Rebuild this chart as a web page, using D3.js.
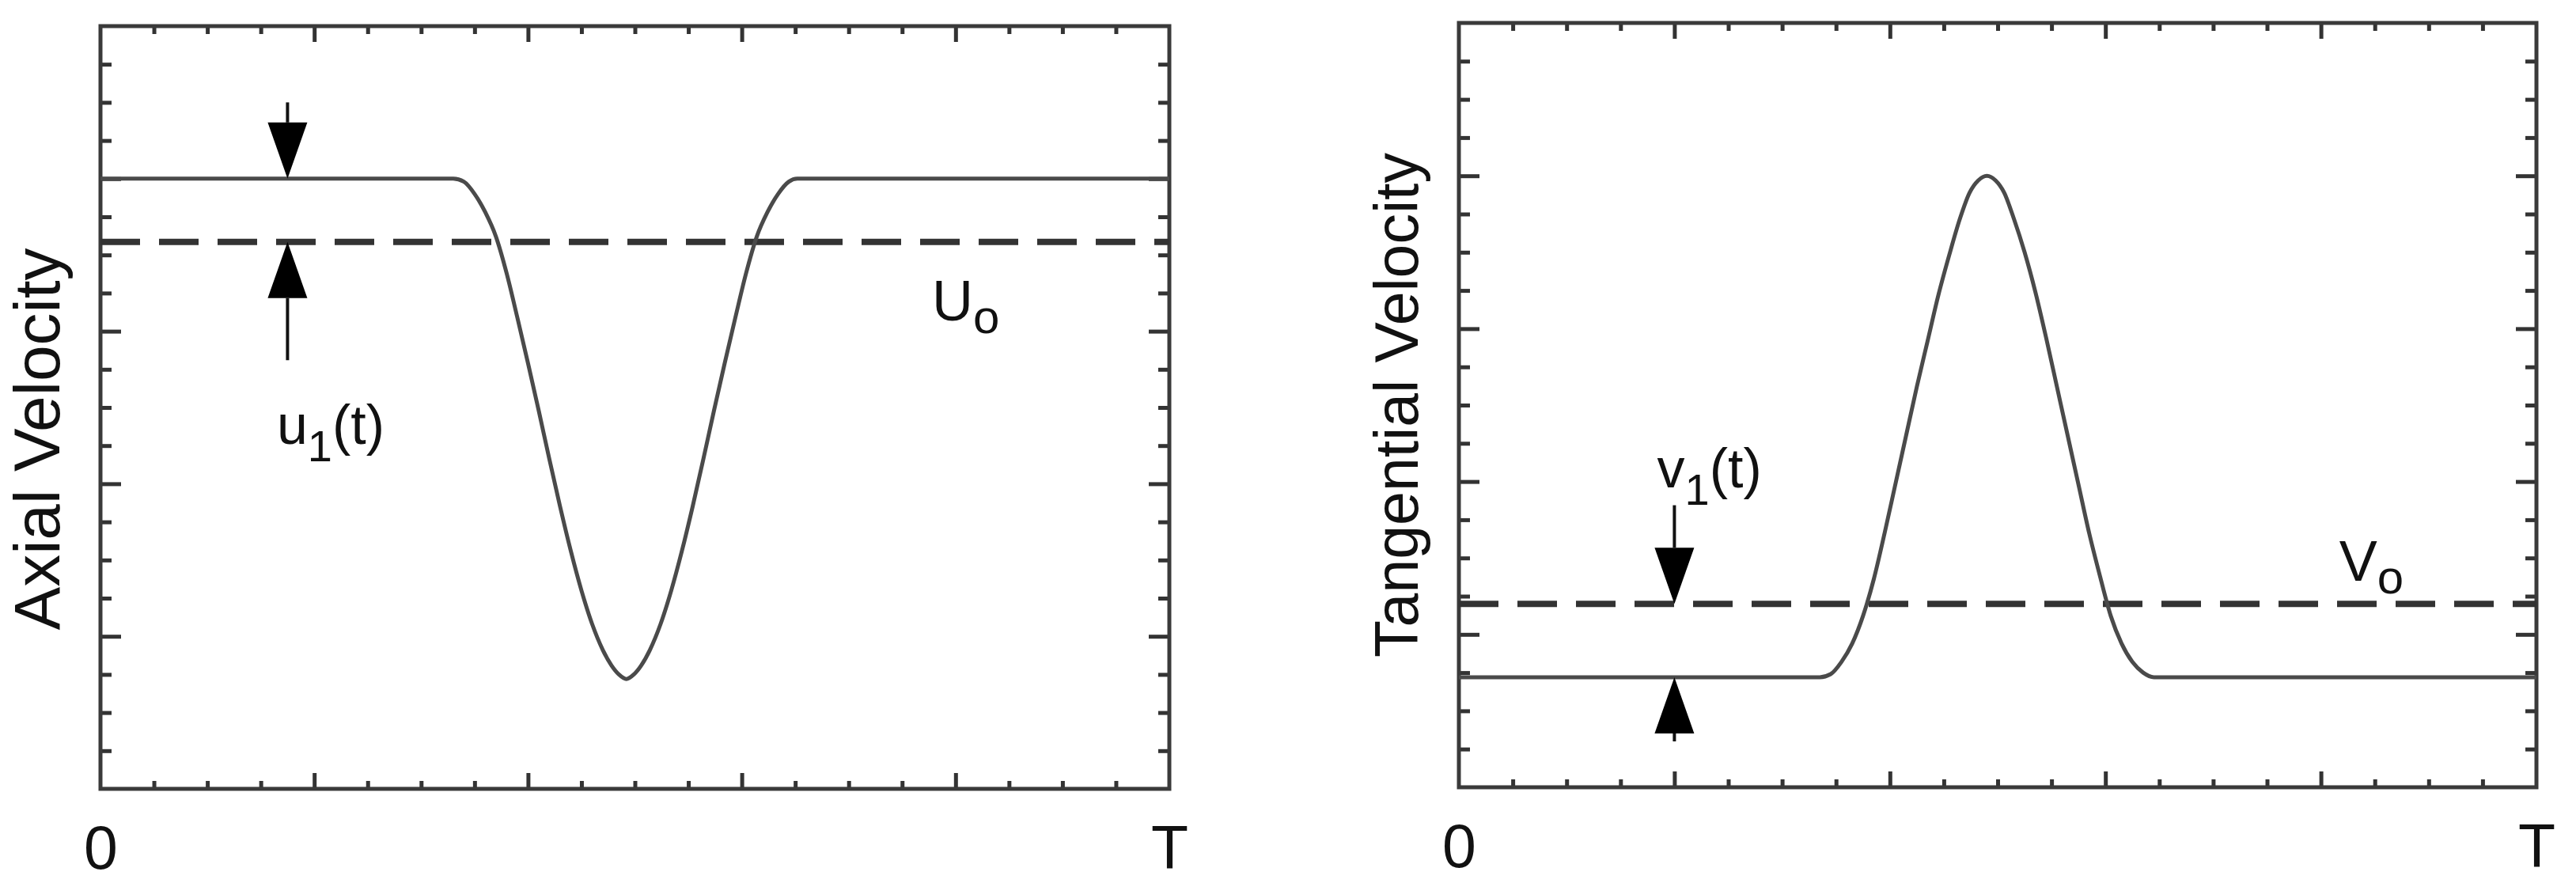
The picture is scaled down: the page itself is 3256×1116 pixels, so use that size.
<!DOCTYPE html>
<html>
<head>
<meta charset="utf-8">
<script src="https://cdn.jsdelivr.net/npm/d3@7"></script>
<style>
  body { margin: 0; background: #fff; }
  svg { display: block; font-family: "Liberation Sans", Arial, Helvetica, sans-serif; }
</style>
</head>
<body>
<div id="chart"></div>
<script>
// time as a fraction of the period T, velocity in plot units (0..5)

// axial velocity: flat, then a dip, then flat again
const axialT = [0, 0.33, 0.34, 0.35, 0.36, 0.37, 0.38, 0.39, 0.40, 0.41, 0.42, 0.43, 0.44, 0.45, 0.46, 0.47, 0.478, 0.485, 0.492,
                0.499, 0.506, 0.514, 0.524, 0.534, 0.544, 0.554, 0.564, 0.574, 0.584, 0.594, 0.604, 0.614, 0.624, 0.634, 0.644, 0.652, 1];
const axialU = [4.0, 4.0, 3.98, 3.90, 3.78, 3.62, 3.38, 3.09, 2.79, 2.48, 2.16, 1.85, 1.56, 1.30, 1.08, 0.91, 0.81, 0.75, 0.72,
                0.75, 0.81, 0.91, 1.08, 1.30, 1.56, 1.85, 2.16, 2.48, 2.79, 3.09, 3.38, 3.62, 3.78, 3.90, 3.98, 4.0, 4.0];
const axialMean = 3.585;

// tangential velocity: flat, then a peak, then flat again
const tangT = [0, 0.335, 0.345, 0.355, 0.365, 0.375, 0.385, 0.395, 0.405, 0.415, 0.425, 0.435, 0.445, 0.455, 0.465, 0.474, 0.482, 0.49,
               0.498, 0.506, 0.515, 0.525, 0.535, 0.545, 0.555, 0.565, 0.575, 0.585, 0.595, 0.605, 0.615, 0.625, 0.635, 0.645, 1];
const tangV = [0.72, 0.72, 0.74, 0.82, 0.94, 1.12, 1.36, 1.66, 1.98, 2.30, 2.62, 2.92, 3.22, 3.48, 3.72, 3.89, 3.97, 4.0,
               3.97, 3.89, 3.72, 3.50, 3.24, 2.94, 2.62, 2.30, 1.98, 1.66, 1.38, 1.12, 0.94, 0.82, 0.75, 0.72, 0.72];
const tangMean = 1.2;

const xTickLabels = ["0", "T"];
const yTitles = ["Axial Velocity", "Tangential Velocity"];

// annotation anchors, in data units [t, value]
const axialArrowDown = [0.175, 4.5, 4.0];   // t, shaft end, tip
const axialArrowUp = [0.175, 2.81, axialMean];
const tangArrowDown = [0.2, 1.845, tangMean];
const tangArrowUp = [0.2, 0.3, 0.72];
const axialLabel = [0.165, 2.26];
const axialMeanLabel = [0.778, 3.07];
const tangLabel = [0.184, 1.96];
const tangMeanLabel = [0.817, 1.35];

const W = 3256, H = 1116;
const svg = d3.select("#chart").append("svg")
    .attr("width", W)
    .attr("height", H);

function panel(box, ts, vs, mean, title, arrows, label, meanLabel) {
    const x = d3.scaleLinear().domain([0, 1]).range([box.x0, box.x1]);
    const y = d3.scaleLinear().domain([0, 5]).range([box.y1, box.y0]);
    const g = svg.append("g");

    // ticks, all pointing inward, on four sides
    const xMinor = d3.range(1, 20).filter(i => i % 4 !== 0).map(i => i / 20);
    const xMajor = [0.2, 0.4, 0.6, 0.8];
    const yMinor = d3.range(1, 20).filter(i => i % 4 !== 0).map(i => i / 4);
    const yMajor = [1, 2, 3, 4];

    const sides = [
        [d3.axisBottom(x), "translate(0," + box.y1 + ")", xMinor, xMajor, 10, 20],
        [d3.axisTop(x), "translate(0," + box.y0 + ")", xMinor, xMajor, 10, 20],
        [d3.axisLeft(y), "translate(" + box.x0 + ",0)", yMinor, yMajor, 14, 26],
        [d3.axisRight(y), "translate(" + box.x1 + ",0)", yMinor, yMajor, 14, 26]
    ];
    sides.forEach(function(s) {
        [[s[2], s[4]], [s[3], s[5]]].forEach(function(p) {
            const a = s[0].tickValues(p[0]).tickSizeInner(-p[1]).tickSizeOuter(0).tickFormat("");
            g.append("g").attr("transform", s[1]).call(a)
                .call(gg => gg.select(".domain").remove())
                .selectAll("line").attr("stroke", "#333").attr("stroke-width", 5);
        });
    });

    // frame
    g.append("rect")
        .attr("x", box.x0).attr("y", box.y0)
        .attr("width", box.x1 - box.x0).attr("height", box.y1 - box.y0)
        .attr("fill", "none").attr("stroke", "#3a3a3a").attr("stroke-width", 5);

    // 0 and T under the frame
    g.append("g")
        .attr("transform", "translate(0," + box.y1 + ")")
        .call(d3.axisBottom(x).tickValues([0, 1]).tickSize(0).tickPadding(46)
            .tickFormat((d, i) => xTickLabels[i]))
        .call(gg => gg.select(".domain").remove())
        .selectAll("text")
        .attr("font-size", 77).attr("fill", "#111")
        .attr("font-family", "Liberation Sans, Arial, sans-serif");

    // y title
    g.append("text")
        .attr("transform", "translate(" + (box.x0 - 52) + "," + ((box.y0 + box.y1) / 2 + title.shift) + ") rotate(-90)")
        .attr("text-anchor", "middle")
        .attr("font-size", title.size).attr("fill", "#111")
        .text(title.text);

    // mean level, dashed
    g.append("line")
        .attr("x1", x(0)).attr("x2", x(1))
        .attr("y1", y(mean)).attr("y2", y(mean))
        .attr("stroke", "#333").attr("stroke-width", 8)
        .attr("stroke-dasharray", "50,24");

    // velocity curve
    const pts = ts.map((t, i) => [t, vs[i]]);
    g.append("path")
        .datum(pts)
        .attr("fill", "none")
        .attr("stroke", "#4a4a4a").attr("stroke-width", 5)
        .attr("d", d3.line().x(d => x(d[0])).y(d => y(d[1])).curve(d3.curveMonotoneX));

    // arrows: shaft plus filled head, head height 71 px, width 51 px
    arrows.forEach(function(a) {
        const ax = x(a[0]), from = y(a[1]), tip = y(a[2]);
        const dir = tip > from ? 1 : -1;
        const base = tip - dir * 71;
        g.append("line")
            .attr("x1", ax).attr("x2", ax)
            .attr("y1", from).attr("y2", base)
            .attr("stroke", "#111").attr("stroke-width", 4);
        g.append("path")
            .attr("d", "M" + (ax - 25) + "," + base + "L" + (ax + 25) + "," + base + "L" + ax + "," + tip + "Z")
            .attr("fill", "#000");
    });

    // labels with subscripts
    const lab = g.append("text")
        .attr("x", x(label.pos[0])).attr("y", y(label.pos[1]))
        .attr("font-size", 70).attr("fill", "#111");
    lab.append("tspan").text(label.main);
    lab.append("tspan").attr("font-size", 56).attr("dy", 22).text(label.sub);
    lab.append("tspan").attr("dy", -22).text(label.tail);

    const ml = g.append("text")
        .attr("x", x(meanLabel.pos[0])).attr("y", y(meanLabel.pos[1]))
        .attr("font-size", 72).attr("fill", "#111");
    ml.append("tspan").text(meanLabel.main);
    ml.append("tspan").attr("font-size", 60).attr("dy", 16).text(meanLabel.sub);
}

panel({x0: 127, x1: 1478, y0: 33, y1: 997}, axialT, axialU, axialMean,
    {text: yTitles[0], size: 82, shift: 40},
    [axialArrowDown, axialArrowUp],
    {pos: axialLabel, main: "u", sub: "1", tail: "(t)"},
    {pos: axialMeanLabel, main: "U", sub: "o"});

panel({x0: 1844, x1: 3206, y0: 29, y1: 995}, tangT, tangV, tangMean,
    {text: yTitles[1], size: 77, shift: 0},
    [tangArrowDown, tangArrowUp],
    {pos: tangLabel, main: "v", sub: "1", tail: "(t)"},
    {pos: tangMeanLabel, main: "V", sub: "o"});
</script>
</body>
</html>
